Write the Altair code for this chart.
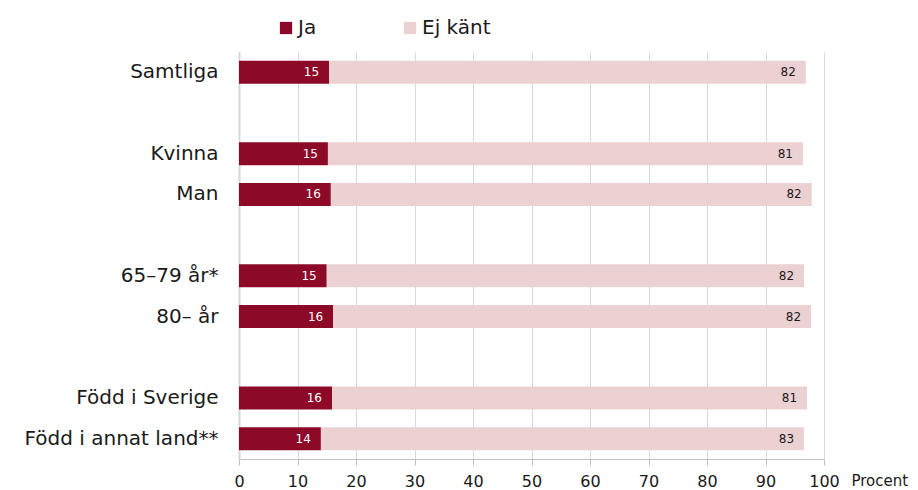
import altair as alt
import pandas as pd

categories = ["Samtliga", " ", "Kvinna", "Man", "  ", "65–79 år*", "80– år", "   ", "Född i Sverige", "Född i annat land**"]
groups = ["Samtliga", "Kvinna", "Man", "65–79 år*", "80– år", "Född i Sverige", "Född i annat land**"]
ja = [15.4, 15.2, 15.7, 15.0, 16.1, 15.9, 14.0]
ej = [81.5, 81.2, 82.2, 81.6, 81.7, 81.2, 82.6]
ja_labels = [15, 15, 16, 15, 16, 16, 14]
ej_labels = [82, 81, 82, 82, 82, 81, 83]
series = ["Ja", "Ej känt"]
colors = ["#8c0a28", "#ebd1d2"]
x_ticks = [0, 10, 20, 30, 40, 50, 60, 70, 80, 90, 100]

rows = []
for g, a, b, la, lb in zip(groups, ja, ej, ja_labels, ej_labels):
    rows.append({"grupp": g, "serie": "Ja", "start": 0, "end": a, "label": str(la), "order": 0})
    rows.append({"grupp": g, "serie": "Ej känt", "start": a, "end": a + b, "label": str(lb), "order": 1})
df = pd.DataFrame(rows)

FONT = "DejaVu Sans"

y_enc = alt.Y("grupp:N", sort=categories, scale=alt.Scale(domain=categories, paddingInner=0.43, paddingOuter=0.215),
              axis=alt.Axis(title=None, labelFontSize=20, labelColor="#1a1a1a", labelFont=FONT, labelPadding=21,
                            labelLimit=400,
                            ticks=False, domain=True, domainColor="#d6d6d6", domainWidth=2, grid=False))

bars = alt.Chart(df).mark_bar(size=23).encode(
    y=y_enc,
    x=alt.X("start:Q", scale=alt.Scale(domain=[0, 100], nice=False),
            axis=alt.Axis(values=x_ticks, title="Procent", titleFontWeight="normal", titleFontSize=15,
                          titleFont=FONT, titleColor="#1a1a1a", titleAlign="left", titleAnchor="start",
                          titleX=612, titleY=21, titleBaseline="middle",
                          labelFontSize=16, labelFont=FONT, labelColor="#1a1a1a", labelPadding=8,
                          labelFlush=False, labelOverlap=False,
                          tickSize=6, tickColor="#bfbfbf", domainColor="#bfbfbf",
                          grid=True, gridColor="#d9d9d9", gridWidth=1)),
    x2="end:Q",
    color=alt.Color("serie:N", scale=alt.Scale(domain=series, range=colors), sort=series,
                    legend=alt.Legend(title=None, orient="none", direction="horizontal", legendX=37, legendY=-34,
                                      symbolType="square", symbolSize=150, symbolStrokeWidth=0,
                                      labelFontSize=20, labelFont=FONT, labelColor="#1a1a1a", labelOffset=2,
                                      columnPadding=83, padding=0)),
    order="order:Q",
)

text_ja = alt.Chart(df[df["serie"] == "Ja"]).mark_text(align="right", baseline="middle", dx=-10, fontSize=12,
                                                        font=FONT, color="white").encode(
    y=alt.Y("grupp:N", sort=categories), x="end:Q", text="label:N")
text_ej = alt.Chart(df[df["serie"] == "Ej känt"]).mark_text(align="right", baseline="middle", dx=-10, fontSize=12,
                                                             font=FONT, color="#1a1a1a").encode(
    y=alt.Y("grupp:N", sort=categories), x="end:Q", text="label:N")

chart = alt.layer(bars, text_ja, text_ej).properties(
    width=585, height=407,
    autosize=alt.AutoSizeParams(type="none"),
    padding={"left": 231, "top": 44, "right": 86, "bottom": 31},
).configure_view(stroke=None)

chart.save("out.html", embed_options={"renderer": "svg", "actions": False})
